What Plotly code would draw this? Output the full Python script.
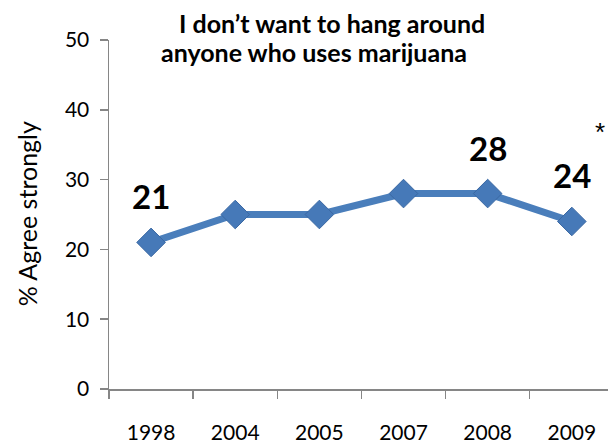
import plotly.graph_objects as go

years = ["1998", "2004", "2005", "2007", "2008", "2009"]
values = [21, 25, 25, 28, 28, 24]
label_years = ["1998", "2008", "2009"]
label_values = [21, 28, 24]
title_line1 = "I don’t want to hang around"
title_line2 = "anyone who uses marijuana"
y_title = "% Agree strongly"
y_ticks = [0, 10, 20, 30, 40, 50]

FONT = "Lato"
BLUE = "#4A7EBB"
GRAY = "#868686"

fig = go.Figure()
fig.add_trace(go.Scatter(
    x=years, y=values, mode="lines+markers",
    line=dict(color=BLUE, width=7),
    marker=dict(symbol="diamond", size=22, color="#4679B8",
                line=dict(color="#3A68A3", width=1)),
    showlegend=False, hoverinfo="skip",
))

annotations = []
for yr, v in zip(label_years, label_values):
    annotations.append(dict(x=years.index(yr), y=v, xref="x", yref="y", text=str(v),
                            showarrow=False, yshift=46, xanchor="center", yanchor="middle",
                            font=dict(family=FONT, size=33, color="black", weight="bold")))
annotations += [
    dict(x=0.447, y=1.050, xref="paper", yref="paper", text=title_line1, showarrow=False,
         xanchor="center", yanchor="middle",
         font=dict(family=FONT, size=25, color="black", weight="bold")),
    dict(x=0.411, y=0.965, xref="paper", yref="paper", text=title_line2, showarrow=False,
         xanchor="center", yanchor="middle",
         font=dict(family=FONT, size=25, color="black", weight="bold")),
    dict(x=-0.164, y=0.501, xref="paper", yref="paper", text=y_title, showarrow=False,
         textangle=-90, xanchor="center", yanchor="middle",
         font=dict(family=FONT, size=25, color="black")),
    dict(x=0.984, y=0.735, xref="paper", yref="paper", text="*", showarrow=False,
         xanchor="center", yanchor="middle",
         font=dict(family="Liberation Sans", size=26, color="black")),
]

fig.update_layout(
    width=608, height=447,
    margin=dict(l=109, r=0, t=40, b=58),
    paper_bgcolor="white", plot_bgcolor="white",
    font=dict(family=FONT, size=21, color="black"),
    annotations=annotations,
    hovermode=False,
    xaxis=dict(
        type="category", range=[-0.5, 5.43],
        showline=True, linecolor=GRAY, linewidth=1.5,
        ticks="outside", tickson="boundaries", ticklen=8, tickcolor=GRAY, tickwidth=1.5,
        showgrid=False, zeroline=False, ticklabelstandoff=24,
        tickfont=dict(family=FONT, size=21, color="black"),
        automargin=False,
    ),
    yaxis=dict(
        range=[0, 50], tickvals=y_ticks,
        showline=True, linecolor=GRAY, linewidth=1.5,
        ticks="outside", ticklen=8, tickcolor=GRAY, tickwidth=1.5,
        showgrid=False, zeroline=False, ticklabelstandoff=6,
        tickfont=dict(family=FONT, size=21, color="black"),
        automargin=False,
    ),
)

fig.write_html(
    "out.html",
    config={"displayModeBar": False, "staticPlot": True},
    post_script="document.body.style.margin='0';document.body.style.overflow='hidden';",
)
